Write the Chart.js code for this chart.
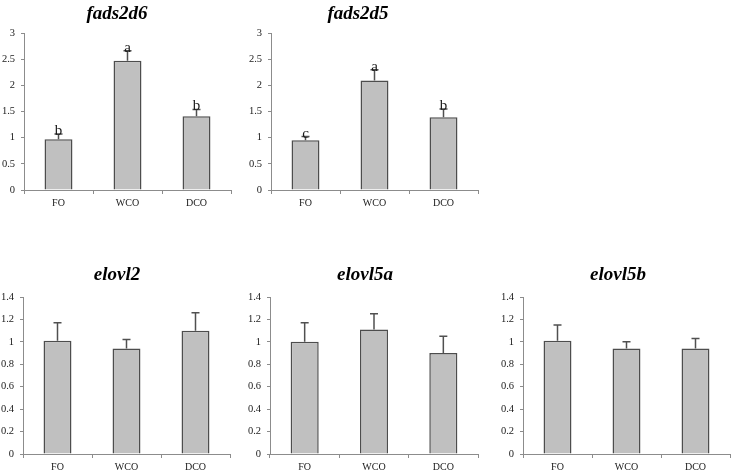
<!DOCTYPE html>
<html>
<head>
<meta charset="utf-8">
<title>Desaturase and elongase expression</title>
<script src="https://cdn.jsdelivr.net/npm/chart.js@4.4.1/dist/chart.umd.min.js"></script>
<style>
  html, body { margin: 0; padding: 0; background: #fff; }
  #page { position: relative; width: 733px; height: 472px; overflow: hidden; }
  #page canvas { position: absolute; }
</style>
</head>
<body>
<div id="page">
  <canvas id="c_fads2d6" width="240" height="215" style="left:0;top:0"></canvas>
  <canvas id="c_fads2d5" width="240" height="215" style="left:240px;top:0"></canvas>
  <canvas id="c_elovl2" width="240" height="232" style="left:0;top:240px"></canvas>
  <canvas id="c_elovl5a" width="240" height="232" style="left:245px;top:240px"></canvas>
  <canvas id="c_elovl5b" width="243" height="232" style="left:490px;top:240px"></canvas>
</div>
<script>
// ── Data ──────────────────────────────────────────────────────────────────────
const GROUPS = ['FO', 'WCO', 'DCO'];

const FADS2D6_MEAN = [0.97, 2.47, 1.41];
const FADS2D6_ERR  = [0.10, 0.19, 0.13];
const FADS2D6_SIG  = ['b', 'a', 'b'];

const FADS2D5_MEAN = [0.95, 2.09, 1.39];
const FADS2D5_ERR  = [0.07, 0.21, 0.16];
const FADS2D5_SIG  = ['c', 'a', 'b'];

const ELOVL2_MEAN  = [1.01, 0.94, 1.10];
const ELOVL2_ERR   = [0.16, 0.08, 0.16];

const ELOVL5A_MEAN = [1.00, 1.11, 0.90];
const ELOVL5A_ERR  = [0.17, 0.14, 0.15];

const ELOVL5B_MEAN = [1.01, 0.94, 0.94];
const ELOVL5B_ERR  = [0.14, 0.06, 0.09];

const TOP_AXIS    = { max: 3,   step: 0.5 };
const BOTTOM_AXIS = { max: 1.4, step: 0.2 };

// ── Styling ───────────────────────────────────────────────────────────────────
const SERIF     = "'Liberation Serif', 'Times New Roman', serif";
const BAR_FILL  = '#c0c0c0';
const BAR_EDGE  = '#4d4d4d';
const AXIS_GREY = '#8c8c8c';
const TEXT_COL  = '#1a1a1a';

// upward-only error bars + significance letters
const errorBars = {
  id: 'errorBars',
  afterDatasetsDraw(chart, args, opts) {
    const ctx  = chart.ctx;
    const yS   = chart.scales.y;
    const vals = chart.data.datasets[0].data;
    ctx.save();
    ctx.strokeStyle = '#505050';
    ctx.lineWidth = 1.5;
    ctx.fillStyle = TEXT_COL;
    ctx.font = `15px ${SERIF}`;
    ctx.textAlign = 'center';
    ctx.textBaseline = 'alphabetic';
    chart.getDatasetMeta(0).data.forEach((bar, i) => {
      const yTop = yS.getPixelForValue(vals[i] + opts.errors[i]);
      ctx.beginPath();
      ctx.moveTo(bar.x, bar.y);
      ctx.lineTo(bar.x, yTop);
      ctx.moveTo(bar.x - 4, yTop);
      ctx.lineTo(bar.x + 4, yTop);
      ctx.stroke();
      if (opts.letters) ctx.fillText(opts.letters[i], bar.x, yTop + 1);
    });
    ctx.restore();
  }
};

// gene name above each panel
const panelTitle = {
  id: 'panelTitle',
  afterDraw(chart, args, opts) {
    const ctx = chart.ctx;
    ctx.save();
    ctx.fillStyle = '#000';
    ctx.font = `italic bold 19px ${SERIF}`;
    ctx.textAlign = 'center';
    ctx.textBaseline = 'alphabetic';
    ctx.fillText(opts.text, opts.cx, opts.baseline);
    ctx.restore();
  }
};

function makePanel(id, title, means, errs, letters, axis, lay) {
  new Chart(document.getElementById(id), {
    type: 'bar',
    data: {
      labels: GROUPS,
      datasets: [{
        data: means,
        backgroundColor: BAR_FILL,
        borderColor: BAR_EDGE,
        borderWidth: 1.5,
        categoryPercentage: 1,
        barPercentage: 0.405,
      }]
    },
    options: {
      responsive: false,
      animation: false,
      events: [],
      layout: { padding: { top: lay.top, right: lay.right, left: 0, bottom: 0 } },
      scales: {
        x: {
          afterFit: s => { s.height = lay.xh; },
          border: { color: AXIS_GREY, width: 1 },
          grid: { drawOnChartArea: false, tickLength: 4, color: AXIS_GREY, offset: true },
          ticks: { color: TEXT_COL, font: { family: SERIF, size: 10 }, padding: 3 },
        },
        y: {
          min: 0,
          max: axis.max,
          afterFit: s => { s.width = lay.yw; },
          border: { color: AXIS_GREY, width: 1 },
          grid: { drawOnChartArea: false, tickLength: 3, color: AXIS_GREY },
          ticks: {
            stepSize: axis.step,
            color: TEXT_COL,
            font: { family: SERIF, size: 10.5 },
            padding: 6,
            callback: v => String(+v.toFixed(2)),
          },
        }
      },
      plugins: {
        legend: { display: false },
        tooltip: { enabled: false },
        errorBars: { errors: errs, letters },
        panelTitle: { text: title, cx: lay.tx, baseline: lay.ty },
      }
    },
    plugins: [errorBars, panelTitle]
  });
}

// ── Panels ────────────────────────────────────────────────────────────────────
makePanel('c_fads2d6', 'fads2d6', FADS2D6_MEAN, FADS2D6_ERR, FADS2D6_SIG, TOP_AXIS,
  { top: 33, right: 9, yw: 24, xh: 25, tx: 117, ty: 19 });
makePanel('c_fads2d5', 'fads2d5', FADS2D5_MEAN, FADS2D5_ERR, FADS2D5_SIG, TOP_AXIS,
  { top: 33, right: 2, yw: 31, xh: 25, tx: 118, ty: 19 });
makePanel('c_elovl2', 'elovl2', ELOVL2_MEAN, ELOVL2_ERR, null, BOTTOM_AXIS,
  { top: 57, right: 10, yw: 23, xh: 18, tx: 117, ty: 40 });
makePanel('c_elovl5a', 'elovl5a', ELOVL5A_MEAN, ELOVL5A_ERR, null, BOTTOM_AXIS,
  { top: 57, right: 7, yw: 25, xh: 18, tx: 120, ty: 40 });
makePanel('c_elovl5b', 'elovl5b', ELOVL5B_MEAN, ELOVL5B_ERR, null, BOTTOM_AXIS,
  { top: 57, right: 3, yw: 33, xh: 18, tx: 128, ty: 40 });
</script>
</body>
</html>
